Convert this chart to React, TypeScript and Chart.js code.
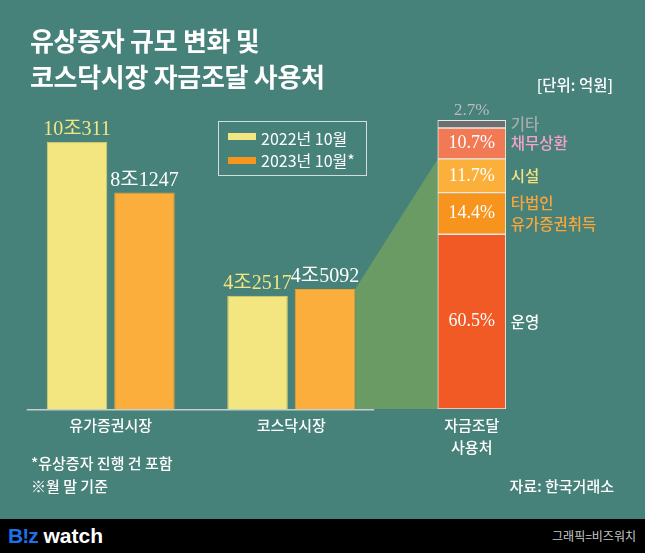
import React, { useEffect, useRef } from "react";
import { Chart, registerables } from "chart.js";

Chart.register(...registerables);

// ---- data ----
const categories = [["유가증권시장"], ["코스닥시장"], ["자금조달", "사용처"]];
const seriesLabels = ["2022년 10월", "2023년 10월*"];
const values2022 = [100311, 42517, null];
const values2023 = [81247, 45092, null];
const useLabels = [["운영"], ["타법인", "유가증권취득"], ["시설"], ["채무상환"], ["기타"]];
const useShares = [60.5, 14.4, 11.7, 10.7, 2.7];

// ---- styles ----
const BG = "#46817a";
const GREEN = "#6a9b64";
const SANS = "'Noto Sans CJK KR', 'Noto Sans', sans-serif";
const SERIF = "'Liberation Serif', 'Noto Sans CJK KR', serif";
const seriesColors = ["#f3e681", "#fbae3b"];
const seriesBorders = ["#e0cf6a", "#f09f2c"];
const legendSwatches = ["#f3e681", "#f7941d"];
const seriesLabelColors = ["#f3e681", "#ffffff"];
const useColors = ["#f15a24", "#f7941d", "#fbb03b", "#f17a55", "#6e6e6e"];
const useTextColors = ["#ffffff", "#f9a63c", "#f3e27e", "#f5a2c8", "#a9adac"];

const fmtEok = (v: number) => `${Math.floor(v / 10000)}조${v % 10000}`;

const overlayPlugin = {
  id: "overlay",
  beforeDatasetsDraw(chart: any) {
    const ctx = chart.ctx;
    const bar4 = chart.getDatasetMeta(1).data[1];
    const stackBase = chart.getDatasetMeta(2).data[2];
    const facility = chart.getDatasetMeta(2 + 2).data[2];
    const x1 = bar4.x + bar4.width / 2;
    const x2 = stackBase.x - stackBase.width / 2;
    ctx.save();
    ctx.fillStyle = GREEN;
    ctx.beginPath();
    ctx.moveTo(x1, bar4.y);
    ctx.lineTo(x2, facility.y);
    ctx.lineTo(x2, stackBase.base);
    ctx.lineTo(x1, bar4.base);
    ctx.closePath();
    ctx.fill();
    const b1 = chart.getDatasetMeta(0).data[0];
    ctx.strokeStyle = "#c3d0ce";
    ctx.lineWidth = 1.5;
    ctx.beginPath();
    ctx.moveTo(b1.x - b1.width / 2 - 20, b1.base + 0.75);
    ctx.lineTo(x1 + 19, b1.base + 0.75);
    ctx.stroke();
    ctx.restore();
  },
  afterDatasetsDraw(chart: any) {
    const ctx = chart.ctx;
    ctx.save();
    // value labels
    ctx.font = `20px ${SERIF}`;
    ctx.textAlign = "center";
    ctx.textBaseline = "alphabetic";
    [values2022, values2023].forEach((vals, s) => {
      chart.getDatasetMeta(s).data.forEach((el: any, i: number) => {
        const v = vals[i];
        if (v == null) return;
        ctx.fillStyle = seriesLabelColors[s];
        ctx.fillText(fmtEok(v), el.x, el.y - 6.5);
      });
    });
    // stack labels
    useShares.forEach((share, k) => {
      const el = chart.getDatasetMeta(2 + k).data[2];
      const mid = (el.y + el.base) / 2;
      const txt = `${share.toFixed(1)}%`;
      ctx.textAlign = "center";
      if (el.base - el.y > 20) {
        ctx.font = `18px ${SERIF}`;
        ctx.fillStyle = "#ffffff";
        ctx.textBaseline = "middle";
        ctx.fillText(txt, el.x, mid);
      } else {
        ctx.font = `17px ${SERIF}`;
        ctx.fillStyle = "#b9bebd";
        ctx.textBaseline = "alphabetic";
        ctx.fillText(txt, el.x, el.y - 5);
      }
      const lines = useLabels[k];
      ctx.font = `500 15.5px ${SANS}`;
      ctx.fillStyle = useTextColors[k];
      ctx.textAlign = "left";
      ctx.textBaseline = "middle";
      lines.forEach((ln, j) => {
        ctx.fillText(ln, el.x + el.width / 2 + 5, mid + (j - (lines.length - 1) / 2) * 21);
      });
    });
    ctx.restore();
  },
};

export default function App() {
  const ref = useRef<HTMLCanvasElement>(null);
  useEffect(() => {
    const pairDefaults = {
      yAxisID: "y",
      borderWidth: 1,
      categoryPercentage: 0.747,
      barPercentage: 0.898,
      skipNull: true,
    };
    const datasets: any[] = [
      { ...pairDefaults, label: seriesLabels[0], data: values2022, stack: "a", backgroundColor: seriesColors[0], borderColor: seriesBorders[0] },
      { ...pairDefaults, label: seriesLabels[1], data: values2023, stack: "b", backgroundColor: seriesColors[1], borderColor: seriesBorders[1] },
      ...useShares.map((share, k) => ({
        label: useLabels[k].join(" "),
        data: [null, null, share],
        stack: "c",
        yAxisID: "y2",
        backgroundColor: useColors[k],
        borderColor: "#e4e8e7",
        borderWidth: 1,
        borderSkipped: false,
        barThickness: 68,
        skipNull: true,
      })),
    ];
    const chart = new Chart(ref.current!, {
      type: "bar",
      data: { labels: categories as any, datasets },
      options: {
        responsive: false,
        animation: false,
        layout: { padding: { top: 100, left: 20.5, right: 83, bottom: 84 } },
        plugins: { legend: { display: false }, tooltip: { enabled: false } },
        scales: {
          x: {
            grid: { display: false, drawTicks: false },
            border: { display: false },
            ticks: {
              color: "#ffffff",
              padding: 5,
              font: { family: SANS, size: 15, weight: "500", lineHeight: 1.47 },
            },
            afterFit: (scale: any) => {
              scale.height = 60;
            },
          },
          y: { display: false, min: 0, max: 116000 },
          y2: { display: false, min: 0, max: 107, stacked: true, position: "right" },
        },
      } as any,
      plugins: [overlayPlugin],
    });
    return () => chart.destroy();
  }, []);

  const txt = (style: React.CSSProperties, children: React.ReactNode) => (
    <div style={{ position: "absolute", whiteSpace: "nowrap", ...style }}>{children}</div>
  );

  return (
    <div
      style={{
        position: "absolute",
        left: 0,
        top: 0,
        width: 645,
        height: 553,
        background: BG,
        overflow: "hidden",
        fontFamily: SANS,
        color: "#ffffff",
      }}
    >
      <canvas ref={ref} width={645} height={553} style={{ position: "absolute", left: 0, top: 0, display: "block" }} />
      {txt({ left: 30, top: 22, fontSize: 26, fontWeight: 700, lineHeight: "36px", letterSpacing: -0.3 }, (
        <>
          유상증자 규모 변화 및
          <br />
          코스닥시장 자금조달 사용처
        </>
      ))}
      {txt({ right: 32, top: 73.5, fontSize: 15.5, fontWeight: 500, lineHeight: "20px" }, "[단위: 억원]")}
      {/* legend */}
      <div
        style={{
          position: "absolute",
          left: 218,
          top: 121,
          width: 149,
          height: 55,
          boxSizing: "border-box",
          border: "1.5px solid #d3dedc",
        }}
      />
      {seriesLabels.map((lab, i) => (
        <React.Fragment key={lab}>
          <div
            style={{
              position: "absolute",
              left: 228,
              top: 133 + i * 23.5,
              width: 28,
              height: 7,
              background: legendSwatches[i],
            }}
          />
          {txt({ left: 261, top: 127.5 + i * 22.5, fontSize: 16, lineHeight: "20px" }, lab)}
        </React.Fragment>
      ))}
      {txt({ left: 31, top: 452.5, fontSize: 15, fontWeight: 500, lineHeight: "20px" }, "*유상증자 진행 건 포함")}
      {txt({ left: 31, top: 475.5, fontSize: 15, fontWeight: 500, lineHeight: "20px" }, "※월 말 기준")}
      {txt({ right: 31, top: 475.5, fontSize: 15, fontWeight: 500, lineHeight: "20px" }, "자료: 한국거래소")}
      <div style={{ position: "absolute", left: 0, top: 519, width: 645, height: 34, background: "#000000" }} />
      {txt(
        { left: 8, top: 523, fontSize: 21, fontWeight: 700, lineHeight: "26px", fontFamily: "'Liberation Sans', Arial, sans-serif" },
        (
          <>
            <span style={{ color: "#1f6fe8", letterSpacing: -1 }}>B!z</span>
            <span style={{ color: "#ffffff" }}> watch</span>
          </>
        )
      )}
      {txt({ right: 9, top: 528, fontSize: 12, lineHeight: "16px", color: "#c9c9c9" }, "그래픽=비즈워치")}
    </div>
  );
}
